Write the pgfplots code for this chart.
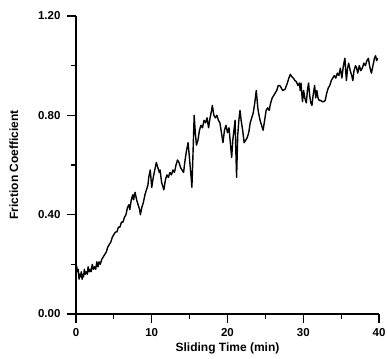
\documentclass[border=0pt]{standalone}
\usepackage{fontspec}
\setmainfont{Liberation Sans}
\usepackage{pgfplots}
\pgfplotsset{compat=1.18}
\begin{document}
\begin{tikzpicture}
\begin{axis}[
  scale only axis, width=303pt, height=298pt,
  xmin=0, xmax=40, ymin=0, ymax=1.2,
  axis lines=left, axis line style={-, line width=1.2pt},
  xtick={0,10,20,30,40}, minor xtick={5,15,25,35},
  ytick={0,0.4,0.8,1.2}, minor ytick={0.2,0.6,1.0},
  tick align=outside, major tick length=9pt, minor tick length=5pt,
  tick style={line width=1.1pt, black},
  /pgf/number format/assume math mode=true,
  yticklabel style={/pgf/number format/fixed, /pgf/number format/fixed zerofill, /pgf/number format/precision=2, xshift=-3pt},
  xticklabel style={yshift=-2pt},
  tick label style={font=\bfseries\fontsize{11.5}{13}\selectfont},
  label style={font=\bfseries\fontsize{12}{14}\selectfont},
  xlabel={Sliding Time (min)}, ylabel={Friction Coefficient},
  xlabel style={at={(axis description cs:0.5,-0.115)}, anchor=center},
  ylabel style={at={(axis description cs:-0.205,0.5)}, anchor=center, rotate=0},
]
\addplot[black, line width=1.4pt, line join=round] coordinates {
(0,0.00) (0.02,0.20) (0.1,0.19) (0.2,0.17) (0.3,0.18) (0.4,0.14) (0.5,0.16) (0.6,0.15) (0.7,0.17) (0.8,0.14) (0.9,0.16) (1.0,0.15) (1.1,0.18) (1.2,0.16) (1.35,0.17) (1.5,0.16) (1.6,0.19) (1.75,0.17) (1.9,0.18) (2.0,0.17) (2.15,0.20) (2.3,0.18) (2.45,0.19) (2.6,0.18) (2.75,0.21) (2.9,0.19) (3.05,0.21) (3.2,0.20) (3.4,0.22) (3.6,0.23) (3.8,0.24) (4.0,0.25) (4.2,0.27) (4.4,0.28) (4.6,0.29) (4.8,0.31) (5.0,0.32) (5.2,0.33) (5.4,0.33) (5.6,0.35) (5.8,0.35) (6.0,0.37) (6.2,0.37) (6.4,0.39) (6.6,0.40) (6.8,0.43) (7.0,0.44) (7.1,0.42) (7.3,0.46) (7.5,0.48) (7.6,0.46) (7.8,0.49) (8.0,0.46) (8.2,0.44) (8.4,0.42) (8.5,0.40) (8.7,0.43) (8.9,0.45) (9.1,0.48) (9.3,0.50) (9.5,0.52) (9.6,0.55) (9.8,0.58) (10.0,0.51) (10.2,0.55) (10.4,0.58) (10.6,0.61) (10.8,0.59) (11.0,0.57) (11.1,0.58) (11.3,0.53) (11.5,0.51) (11.6,0.50) (11.8,0.54) (12.0,0.56) (12.2,0.55) (12.4,0.57) (12.6,0.56) (12.8,0.58) (13.0,0.57) (13.2,0.60) (13.4,0.62) (13.6,0.61) (13.8,0.59) (14.0,0.58) (14.2,0.57) (14.4,0.62) (14.6,0.66) (14.8,0.69) (15.0,0.62) (15.2,0.55) (15.3,0.51) (15.45,0.65) (15.6,0.80) (15.75,0.73) (15.9,0.68) (16.1,0.70) (16.3,0.74) (16.5,0.76) (16.7,0.75) (16.9,0.78) (17.1,0.77) (17.3,0.79) (17.5,0.75) (17.7,0.79) (17.9,0.82) (18.0,0.84) (18.2,0.80) (18.4,0.79) (18.6,0.80) (18.8,0.78) (19.0,0.77) (19.2,0.73) (19.4,0.69) (19.6,0.74) (19.8,0.76) (20.0,0.73) (20.2,0.75) (20.4,0.68) (20.55,0.63) (20.7,0.70) (20.85,0.74) (21.0,0.78) (21.1,0.66) (21.2,0.55) (21.35,0.72) (21.5,0.78) (21.65,0.82) (21.8,0.78) (22.0,0.74) (22.2,0.69) (22.4,0.70) (22.6,0.71) (22.8,0.73) (23.0,0.77) (23.2,0.79) (23.4,0.81) (23.6,0.85) (23.8,0.90) (24.0,0.83) (24.1,0.81) (24.3,0.78) (24.5,0.76) (24.7,0.74) (24.9,0.78) (25.1,0.82) (25.3,0.83) (25.5,0.82) (25.7,0.85) (25.9,0.87) (26.1,0.88) (26.3,0.89) (26.5,0.90) (26.7,0.92) (26.9,0.92) (27.1,0.91) (27.3,0.90) (27.6,0.905) (27.9,0.93) (28.1,0.95) (28.3,0.965) (28.5,0.955) (28.7,0.95) (28.9,0.94) (29.1,0.935) (29.3,0.92) (29.5,0.93) (29.6,0.90) (29.7,0.93) (29.8,0.89) (29.9,0.855) (30.05,0.90) (30.2,0.87) (30.4,0.85) (30.55,0.90) (30.7,0.93) (30.85,0.88) (31.0,0.85) (31.15,0.84) (31.3,0.88) (31.5,0.92) (31.65,0.87) (31.8,0.90) (31.95,0.87) (32.1,0.86) (32.3,0.86) (32.5,0.855) (32.7,0.855) (32.9,0.86) (33.1,0.89) (33.3,0.91) (33.5,0.92) (33.7,0.94) (33.9,0.95) (34.1,0.96) (34.3,0.95) (34.5,0.97) (34.7,0.96) (34.9,0.99) (35.1,0.95) (35.3,1.00) (35.5,1.03) (35.6,0.98) (35.7,0.94) (35.85,0.99) (36.0,1.01) (36.2,0.98) (36.4,0.96) (36.55,0.94) (36.7,0.98) (36.9,1.00) (37.05,0.99) (37.2,0.97) (37.4,1.00) (37.6,0.98) (37.8,0.99) (38.0,1.01) (38.2,1.00) (38.4,1.02) (38.6,1.03) (38.75,1.00) (38.9,0.98) (39.0,0.97) (39.2,1.00) (39.4,1.03) (39.55,1.04) (39.7,1.02) (39.8,1.03)
};
\end{axis}
\pgfresetboundingbox
\path (-76pt,-44pt) rectangle (311pt,314pt);
\end{tikzpicture}
\end{document}
